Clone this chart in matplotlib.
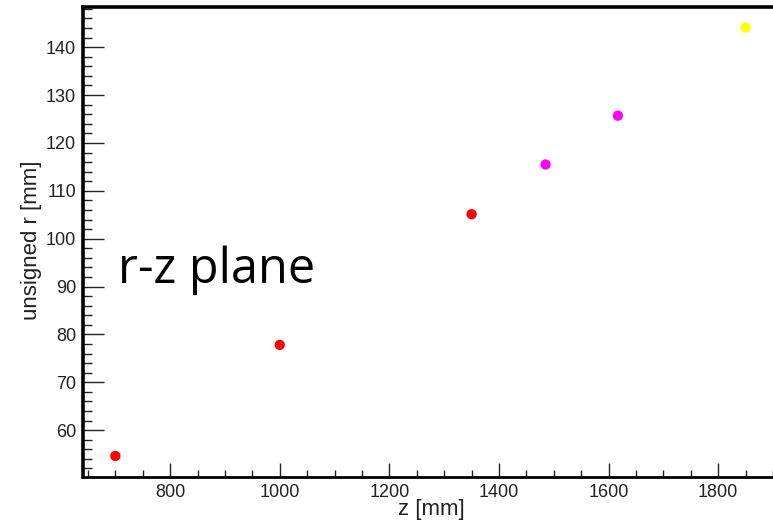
import matplotlib.pyplot as plt
from matplotlib.ticker import MultipleLocator

# hit positions in the r-z plane
z_mm = [700, 1000, 1350, 1485, 1617, 1850]
r_mm = [54.6, 77.8, 105.1, 115.5, 125.7, 144.1]
hit_colors = ['#ff0000', '#ff0000', '#ff0000', '#ff00ff', '#ff00ff', '#ffff00']

OUT_PNG = 'out.png'

plt.rcParams['font.family'] = ['Liberation Sans', 'DejaVu Sans']

fig = plt.figure(figsize=(7.73, 5.27), dpi=100)
ax = fig.add_axes([0.1074, 0.0949, 0.8926, 0.8918])

ax.scatter(z_mm, r_mm, c=hit_colors, s=55, linewidths=0, zorder=3)

ax.set_xlim(641, 1900)
ax.set_ylim(50.2, 148.4)

ax.xaxis.set_major_locator(MultipleLocator(200))
ax.xaxis.set_minor_locator(MultipleLocator(50))
ax.yaxis.set_major_locator(MultipleLocator(10))
ax.yaxis.set_minor_locator(MultipleLocator(2))

ax.tick_params(axis='both', which='both', direction='in', top=False, right=False,
               labelsize=13, colors='#222222', width=1.0)
ax.tick_params(axis='y', which='major', length=15, pad=5)
ax.tick_params(axis='y', which='minor', length=6.5)
ax.tick_params(axis='x', which='major', length=10, pad=5)
ax.tick_params(axis='x', which='minor', length=5)

ax.spines['right'].set_visible(False)
ax.spines['left'].set_linewidth(2.6)
ax.spines['top'].set_linewidth(2.6)
ax.spines['bottom'].set_linewidth(2.0)

fig.text(465 / 773, 1 - 510 / 527, 'z [mm]', ha='right', va='center', fontsize=16, color='#222222')
fig.text(32 / 773, 1 - 240 / 527, 'unsigned r [mm]', rotation=90, ha='center', va='center',
         fontsize=16, color='#222222')

ax.text(118 / 773, 1 - 283 / 527, 'r-z plane', transform=fig.transFigure, ha='left',
        va='baseline', fontsize=35, family=['Open Sans', 'DejaVu Sans'], color='black')

fig.savefig(OUT_PNG, dpi=100)
